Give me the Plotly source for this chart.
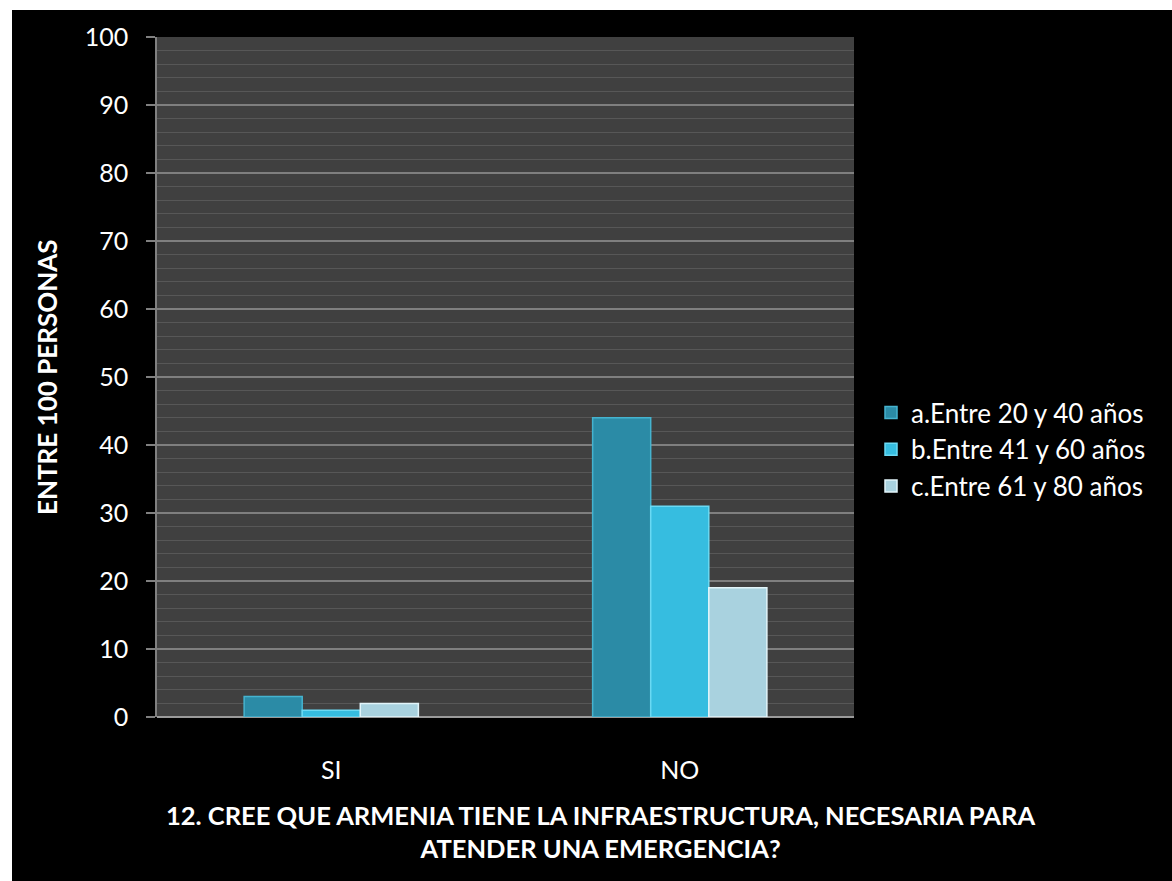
import plotly.graph_objects as go

categories = ["SI", "NO"]
series_names = ["a.Entre 20 y 40 años", "b.Entre 41 y 60 años", "c.Entre 61 y 80 años"]
series_values = [
    [3, 44],
    [1, 31],
    [2, 19],
]
fill_colors = ["#2b8ba6", "#36bde0", "#a9d2df"]
edge_colors = ["#45b3cf", "#6ad9f3", "#e2f5fa"]
y_ticks = [0, 10, 20, 30, 40, 50, 60, 70, 80, 90, 100]

FONT = "Lato"

fig = go.Figure()
for name, vals, fc, ec in zip(series_names, series_values, fill_colors, edge_colors):
    fig.add_trace(go.Bar(
        x=categories, y=vals, name=name,
        marker=dict(color=fc, line=dict(color=ec, width=1.5)),
    ))

W, H = 1172, 881
L, R, T, B = 157, 318, 37, 164
pw, ph = W - L - R, H - T - B

def px_x(px):
    return (px - L) / pw

def px_y(py):
    return (H - B - py) / ph

fig.update_layout(
    width=W, height=H,
    margin=dict(l=L, r=R, t=T, b=B),
    paper_bgcolor="black",
    plot_bgcolor="#404040",
    barmode="group",
    bargap=0.5,
    bargroupgap=0,
    font=dict(family=FONT, color="white", size=26),
    showlegend=True,
    legend=dict(
        x=px_x(871), y=px_y(389), xanchor="left", yanchor="top",
        font=dict(family=FONT, size=26, color="white"),
        bgcolor="rgba(0,0,0,0)",
        tracegroupgap=0,
        itemwidth=30,
    ),
    xaxis=dict(
        showgrid=False, showline=False, ticks="",
        ticklabelstandoff=36,
        tickfont=dict(family=FONT, size=25, color="white"),
    ),
    yaxis=dict(
        range=[0, 100],
        tickvals=y_ticks,
        showgrid=True, gridcolor="#7f7f7f", gridwidth=1.5,
        showline=True, linecolor="#808080", linewidth=1.5,
        ticks="outside", ticklen=9, tickcolor="#808080", tickwidth=1.5,
        ticklabelstandoff=13,
        tickfont=dict(family=FONT, size=25, color="white"),
        minor=dict(dtick=2, showgrid=True, gridcolor="#575757", gridwidth=1, ticks=""),
        zeroline=True, zerolinecolor="#9a9a9a", zerolinewidth=2,
    ),
    shapes=[
        dict(type="rect", xref="paper", yref="paper", layer="below",
             x0=px_x(0), x1=px_x(12), y0=px_y(H), y1=px_y(0),
             fillcolor="white", line=dict(width=0)),
        dict(type="rect", xref="paper", yref="paper", layer="below",
             x0=px_x(0), x1=px_x(W), y0=px_y(10), y1=px_y(0),
             fillcolor="white", line=dict(width=0)),
    ],
    annotations=[
        dict(text="<b>ENTRE 100 PERSONAS</b>", textangle=-90,
             xref="paper", yref="paper", x=px_x(47), y=px_y(377),
             xanchor="center", yanchor="middle", showarrow=False,
             font=dict(family=FONT, size=26, color="white")),
        dict(text="<b>12. CREE QUE ARMENIA TIENE LA INFRAESTRUCTURA, NECESARIA PARA<br>ATENDER UNA EMERGENCIA?</b>",
             xref="paper", yref="paper", x=px_x(600), y=px_y(831),
             xanchor="center", yanchor="middle", showarrow=False,
             font=dict(family=FONT, size=25.5, color="white")),
    ],
)

fig.write_html("out.html")
